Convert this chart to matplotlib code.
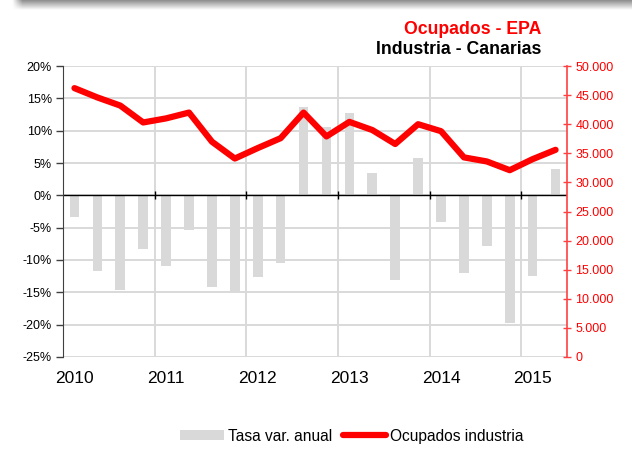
import numpy as np
import matplotlib
matplotlib.use('Agg')
import matplotlib.pyplot as plt
from matplotlib.ticker import FuncFormatter

# quarterly data, 2010Q1 .. 2015Q2
years = ['2010', '2011', '2012', '2013', '2014', '2015']
tasa = [-3.3, -11.7, -14.6, -8.3, -11.0, -5.3, -14.2, -14.9, -12.7, -10.4,
        13.6, 10.5, 12.8, 3.4, -13.1, 5.8, -4.2, -12.0, -7.9, -19.7, -12.4, 4.1]
ocupados = [46200, 44600, 43200, 40300, 41000, 42000, 37000, 34100, 35900, 37600,
            42000, 37900, 40400, 39000, 36600, 40000, 38800, 34300, 33600, 32100,
            34000, 35600]

plt.rcParams['font.family'] = ['Liberation Sans', 'DejaVu Sans']

fig = plt.figure(figsize=(6.32, 4.5), dpi=100)

# grey shadow along the top edge
sh = fig.add_axes([0.0, 0.978, 1.0, 0.022])
grad = np.linspace(0.55, 1.0, 40).reshape(-1, 1) * np.ones((1, 600))
fade = np.clip((np.linspace(0, 632, 600) - 12) / 10, 0, 1)
grad = 1 - (1 - grad) * fade
sh.imshow(grad, cmap='gray', vmin=0, vmax=1, aspect='auto',
          extent=[0, 1, 0, 1], interpolation='bilinear')
sh.axis('off')

ax = fig.add_axes([0.0997, 0.2067, 0.7975, 0.6466])
ax2 = ax.twinx()

n = len(tasa)
x = np.arange(n)
grid_c = '#D9D9D9'

ax.bar(x, tasa, width=0.42, color='#D9D9D9', zorder=2, label='Tasa var. anual')
ax2.plot(x, ocupados, color='#FF0000', lw=4.5, solid_capstyle='round',
         solid_joinstyle='round', zorder=3, label='Ocupados industria')

ax.set_xlim(-0.5, n - 0.5)
ax.set_ylim(-25, 20)
ax2.set_ylim(0, 50000)

# gridlines
for v in np.arange(-25, 21, 5):
    ax.axhline(v, color=grid_c, lw=1.4, zorder=0)
bounds = np.arange(-0.5, n - 0.5, 4)
for b in bounds[1:]:
    ax.axvline(b, color=grid_c, lw=1.4, zorder=0)
ax.axhline(0, color='black', lw=1.0, zorder=2.5)

ax.set_yticks(np.arange(-25, 21, 5))
ax.yaxis.set_major_formatter(FuncFormatter(lambda v, p: '%d%%' % v))
ax.tick_params(axis='y', direction='out', length=5, width=1, color='#404040',
               labelsize=9, pad=3)

# year labels at first quarter of each year
ax.set_xticks(np.arange(0, n, 4))
ax.set_xticklabels(years, fontsize=12.5)
ax.tick_params(axis='x', length=0, pad=10)

# tick marks on the zero line
zpos = (0 - (-25)) / 45
sec = ax.secondary_xaxis(zpos)
sec.set_xticks(bounds[1:])
sec.tick_params(axis='x', direction='inout', length=6, width=1, color='black',
                labelbottom=False, labeltop=False)
sec.spines['bottom'].set_visible(False)
sec.spines['top'].set_visible(False)

ax2.set_yticks(np.arange(0, 50001, 5000))
ax2.yaxis.set_major_formatter(FuncFormatter(lambda v, p: '{:,.0f}'.format(v).replace(',', '.')))
ax2.tick_params(axis='y', direction='inout', length=6, width=1, color='#FF4040',
                labelcolor='#FF0000', labelsize=9, pad=3)

for a in (ax, ax2):
    a.spines['top'].set_visible(False)
    a.spines['bottom'].set_visible(False)
ax.spines['left'].set_color('#404040')
ax2.spines['left'].set_visible(False)
ax.spines['right'].set_visible(False)
ax2.spines['right'].set_color('#FF4040')
ax2.spines['right'].set_linewidth(1.2)

fig.text(0.857, 0.934, 'Ocupados - EPA', color='#FF0000', fontsize=12.7,
         fontweight='bold', ha='right', va='center')
fig.text(0.857, 0.889, 'Industria - Canarias', color='black', fontsize=12.7,
         fontweight='bold', ha='right', va='center')

h1, l1 = ax.get_legend_handles_labels()
h2, l2 = ax2.get_legend_handles_labels()
fig.legend(h1 + h2, l1 + l2, loc='center', bbox_to_anchor=(0.557, 0.031),
           ncol=2, frameon=False, fontsize=11.2, handlelength=2.8,
           handleheight=0.6, handletextpad=0.25, columnspacing=0.7)

fig.savefig('out.png', dpi=100)
